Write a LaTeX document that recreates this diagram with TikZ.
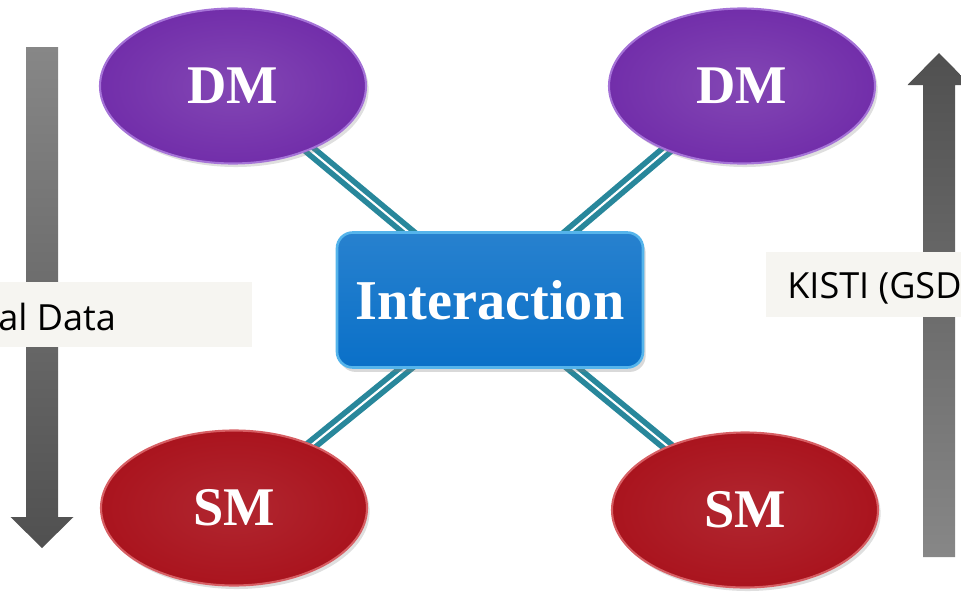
\documentclass[tikz,border=0pt]{standalone}
\usepackage{fontspec}
\usetikzlibrary{shapes.geometric,shadows,backgrounds}

\newfontfamily\modelfont{Liberation Serif}
\newfontfamily\notefont{Open Sans}

\definecolor{dmpurple}{RGB}{114,46,170}
\definecolor{dmrim}{RGB}{165,115,215}
\definecolor{smred}{RGB}{170,20,30}
\definecolor{smrim}{RGB}{215,95,100}
\definecolor{intblue}{RGB}{10,112,200}
\definecolor{intrim}{RGB}{85,180,235}
\definecolor{linkteal}{RGB}{40,135,155}
\definecolor{arrowlight}{RGB}{135,135,135}
\definecolor{arrowdark}{RGB}{80,80,80}
\definecolor{notebg}{RGB}{246,245,241}

\tikzset{
  model/.style={ellipse, minimum width=5.32cm, minimum height=3.1cm, line width=1.2pt,
    text=white, font=\modelfont\bfseries\fontsize{31}{31}\selectfont,
    drop shadow={shadow xshift=1.5pt, shadow yshift=-2pt, opacity=0.25}},
  dmnode/.style={model, draw=dmrim, inner color=dmpurple!88!white, outer color=dmpurple},
  smnode/.style={model, draw=smrim, inner color=smred!92!white, outer color=smred},
  intbox/.style={rectangle, rounded corners=9pt, minimum width=6.12cm, minimum height=2.7cm,
    draw=intrim, line width=1.5pt, top color=intblue!88!white, bottom color=intblue,
    text=white, font=\modelfont\bfseries\fontsize{32}{32}\selectfont,
    drop shadow={shadow xshift=1.5pt, shadow yshift=-2.5pt, opacity=0.3}},
  link/.style={draw=linkteal, line width=3.2pt, double=white, double distance=1.2pt},
  note/.style={inner sep=0pt, font=\notefont\fontsize{20.5}{20.5}\selectfont}
}

\begin{document}
\begin{tikzpicture}

    \useasboundingbox (0,0) rectangle (19.22,11.82);
    \clip (0,0) rectangle (19.22,11.82);

    % Draw the four model ellipses and the centre box
    \node[dmnode] (dmleft) at (4.66,10.10) {DM};
    \node[dmnode] (dmright) at (14.84,10.10) {DM};
    \node[smnode] (smleft) at (4.68,1.66) {SM};
    \node[smnode] (smright) at (14.90,1.62) {SM};
    \node[intbox] (inter) at (9.80,5.82) {Interaction};

    % Links from each ellipse to the centre box
    \begin{scope}[on background layer]
        \draw[link] (dmleft.center) -- (inter.center);
        \draw[link] (dmright.center) -- (inter.center);
        \draw[link] (smleft.center) -- (inter.center);
        \draw[link] (smright.center) -- (inter.center);
    \end{scope}

    % Down arrow on the left
    \shade[top color=arrowlight, bottom color=arrowdark]
        (0.52,10.88) -- (1.16,10.88) -- (1.16,1.48) -- (1.47,1.48)
        -- (0.84,0.86) -- (0.21,1.48) -- (0.52,1.48) -- cycle;

    % Up arrow on the right
    \shade[top color=arrowdark, bottom color=arrowlight]
        (18.46,0.68) -- (19.10,0.68) -- (19.10,10.12) -- (19.41,10.12)
        -- (18.78,10.76) -- (18.15,10.12) -- (18.46,10.12) -- cycle;

    % Text boxes over the arrows
    \fill[notebg] (0,4.88) rectangle (5.04,6.18);
    \node[note, anchor=base west] (leftnote) at (-0.04,5.22) {al Data};

    \fill[notebg] (15.32,5.48) rectangle (19.22,6.78);
    \node[note, anchor=base west] (rightnote) at (15.74,5.86) {KISTI (GSD};

\end{tikzpicture}
\end{document}
